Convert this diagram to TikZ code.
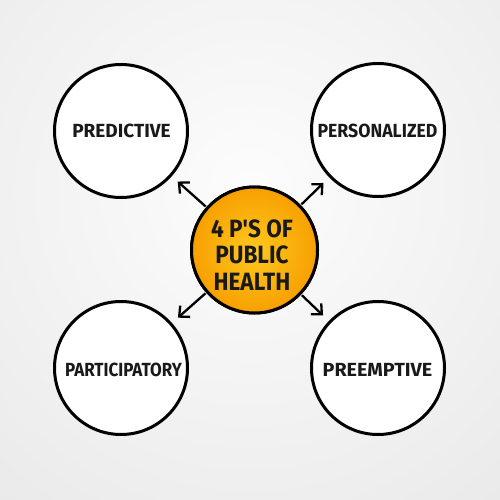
\documentclass[tikz,border=0pt]{standalone}
\usepackage{fontspec}
\usepackage{graphicx}
\usetikzlibrary{arrows.meta}
\newfontfamily\labfont[FakeStretch=0.97]{Fira Sans}
\newfontfamily\cenfont[FakeStretch=0.9]{Fira Sans}
\definecolor{orin}{HTML}{FFC81E}
\definecolor{orout}{HTML}{F7A000}
\tikzset{
  pcircle/.style={circle, draw=black, line width=3pt, fill=white, minimum size=133pt, inner sep=0pt},
  ccircle/.style={circle, draw=black, line width=3pt, inner color=orin, outer color=orout, minimum size=126pt, inner sep=0pt},
  plabel/.style={font=\labfont\bfseries\fontsize{19}{20}\selectfont, text=black!90},
  clabel/.style={font=\cenfont\bfseries\fontsize{25}{26.5}\selectfont, text=black!90, align=center},
  parrow/.style={line width=2.3pt, -{Straight Barb[length=8pt, width=15pt, line width=2.3pt]}, shorten >=8pt, shorten <=1pt}
}
\begin{document}
\begin{tikzpicture}[x=1pt,y=-1pt]
\useasboundingbox (0,0) rectangle (500,500);
\begin{scope}
\clip (0,0) rectangle (500,500);
\fill[inner color=white!99!black, outer color=black!9] (250,190) circle (440);
\end{scope}
\node[pcircle] (pred) at (121,131) {};
\node[pcircle] (pers) at (378,130) {};
\node[pcircle] (part) at (121,368) {};
\node[pcircle] (pree) at (378,368) {};
\node[ccircle] (cen) at (254.5,250) {};
\draw[parrow] (cen) -- (pred);
\draw[parrow] (cen) -- (pers);
\draw[parrow] (cen) -- (part);
\draw[parrow] (cen) -- (pree);
\node[ccircle] at (cen) {};
\node[clabel] (ctext) at (252,255) {4 P'S OF\\PUBLIC\\HEALTH};
\node[plabel] (tpred) at (121.5,131) {\scalebox{1.03}[1]{PREDICTIVE}};
\node[plabel] (tpers) at (377.5,131) {\scalebox{0.96}[1]{PERSONALIZED}};
\node[plabel] (tpart) at (123.5,370) {\scalebox{0.92}[1]{PARTICIPATORY}};
\node[plabel] (tpree) at (377.5,370) {\scalebox{1.07}[1]{PREEMPTIVE}};
\end{tikzpicture}
\end{document}
